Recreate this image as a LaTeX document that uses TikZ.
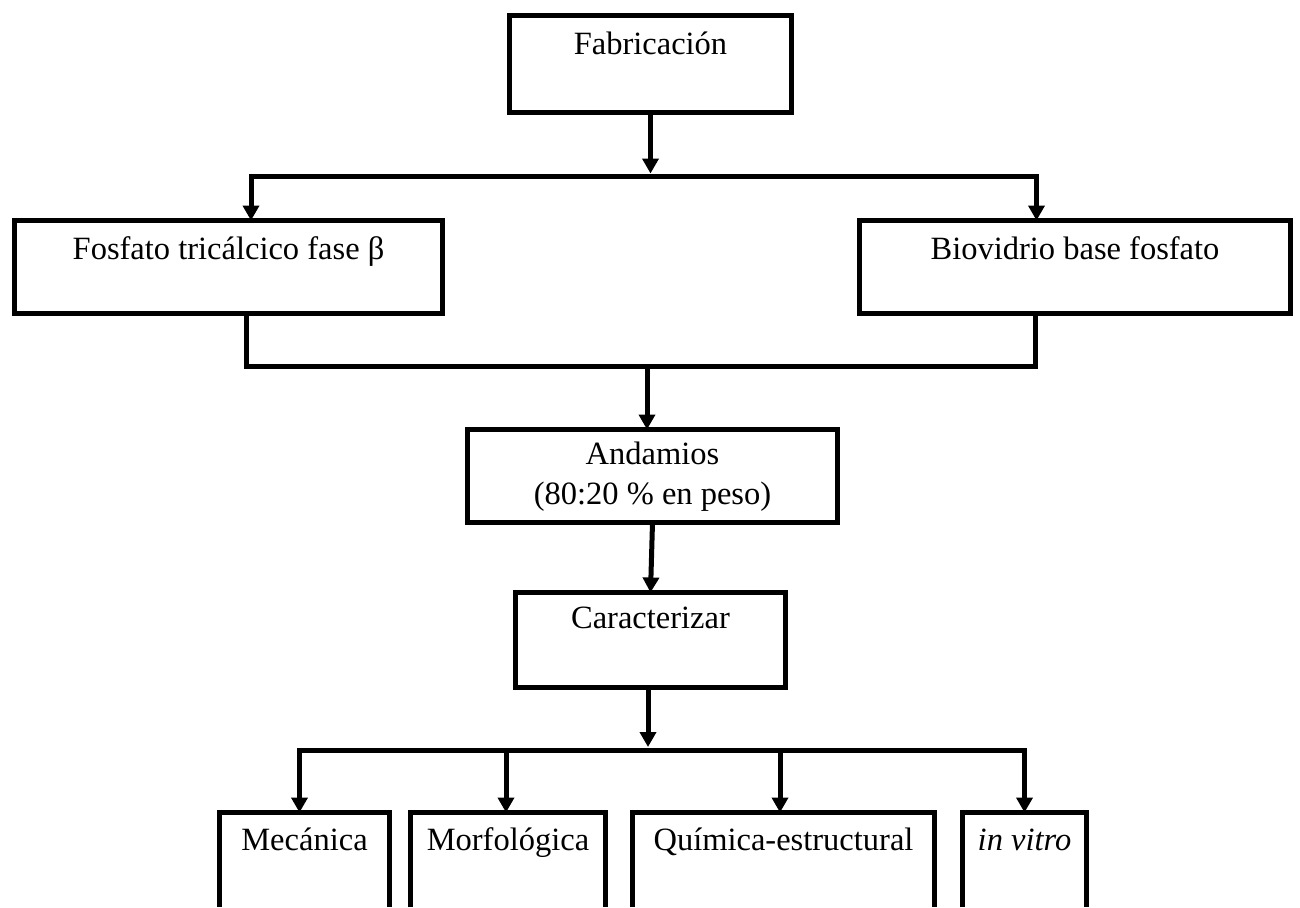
\documentclass[tikz,border=0pt]{standalone}
\usepackage{fontspec}
\setmainfont{Liberation Serif}
\usetikzlibrary{arrows.meta}
\tikzset{
  txt/.style={inner sep=0pt, outer sep=0pt, anchor=north west, align=center, font=\fontsize{32.5}{40}\selectfont},
  box/.style={txt, draw=black, line width=5pt},
  openbox/.style={txt, draw=none},
  conn/.style={draw=black, line width=5pt, line join=miter},
  tipA/.tip={Triangle[width=16pt,length=15pt]},
  arr/.style={conn, -tipA},
  arrboth/.style={conn, tipA-tipA},
}
\begin{document}
\begin{tikzpicture}[x=1pt,y=-1pt]
\useasboundingbox[fill=white] (0,0) rectangle (1300,907);
% boxes
\node[box, minimum width=282pt, minimum height=97pt, text height=39pt, text depth=58pt] (fab) at (509.5,15.5) {Fabricación};
\node[box, minimum width=428pt, minimum height=93pt, text height=39pt, text depth=54pt] (fos) at (14.5,220.5) {Fosfato tricálcico fase β};
\node[box, minimum width=431pt, minimum height=93pt, text height=39pt, text depth=54pt] (bio) at (859.5,220.5) {Biovidrio base fosfato};
\node[box, minimum width=370pt, minimum height=93pt] (and) at (467.5,429.5) {\raisebox{-3pt}{\begin{tabular}{@{}c@{}}Andamios\\(80:20 \% en peso)\end{tabular}}};
\node[box, minimum width=270pt, minimum height=95pt, text height=36pt, text depth=59pt] (car) at (515.5,592.5) {Caracterizar};
% bottom boxes (cut by page edge)
\node[openbox, minimum width=170pt, minimum height=94.5pt, text height=37.5pt, text depth=57pt] (mec) at (219.5,812.5) {Mecánica};
\node[openbox, minimum width=195pt, minimum height=94.5pt, text height=37.5pt, text depth=57pt] (mor) at (410.5,812.5) {Morfológica};
\node[openbox, minimum width=302pt, minimum height=94.5pt, text height=37.5pt, text depth=57pt] (qui) at (632.5,812.5) {Química-estructural};
\node[openbox, minimum width=124pt, minimum height=94.5pt, text height=37.5pt, text depth=57pt] (vit) at (962.5,812.5) {\textit{in vitro}};
\foreach \n in {mec,mor,qui,vit}{
  \draw[conn] (\n.south west) -- (\n.north west) -- (\n.north east) -- (\n.south east);
}
% connectors top
\coordinate (jTop) at (650.5,173.5);
\coordinate (dL) at (251,176);
\coordinate (dR) at (1036.5,176);
\draw[arr] (fab.south) -- (jTop);
\draw[arrboth] (fos.north -| dL) -- (dL) -- (dR) -- (bio.north -| dR);
% connectors middle
\coordinate (lL) at (246,366);
\coordinate (lR) at (1035.5,366);
\coordinate (jMid) at (647,366);
\draw[conn] (fos.south -| lL) -- (lL) -- (lR) -- (bio.south -| lR);
\draw[arr] (jMid) -- (and.north -| jMid);
\draw[arr] (and.south) -- (car.north);
% connectors bottom
\coordinate (jBot) at (648,747);
\coordinate (b1) at (299.5,750);
\coordinate (b2) at (506,750);
\coordinate (b3) at (780,750);
\coordinate (b4) at (1024.5,750);
\draw[arr] (car.south -| jBot) -- (jBot);
\draw[arrboth] (mec.north -| b1) -- (b1) -- (b4) -- (vit.north -| b4);
\draw[arr] (b2) -- (mor.north -| b2);
\draw[arr] (b3) -- (qui.north -| b3);
\end{tikzpicture}
\end{document}
